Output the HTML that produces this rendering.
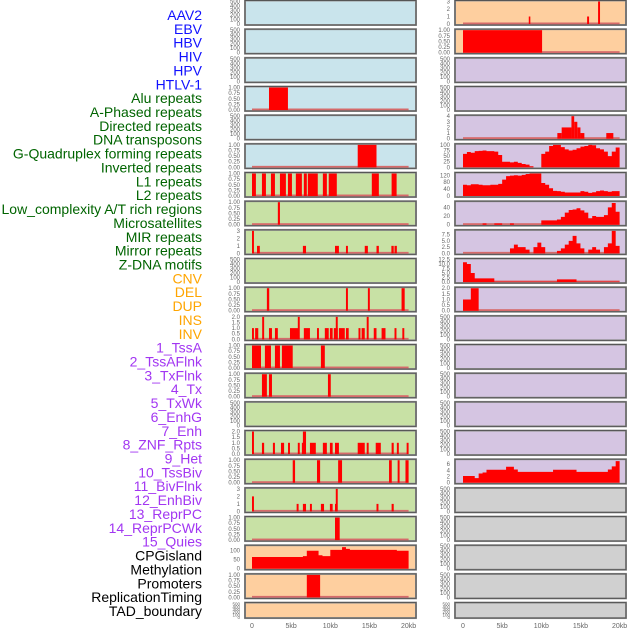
<!DOCTYPE html>
<html><head><meta charset="utf-8"><style>
html,body{margin:0;padding:0;background:#fff;}
svg{display:block;font-family:"Liberation Sans",sans-serif;}
</style></head><body>
<svg id="chart" width="630" height="630" viewBox="0 0 630 630" xmlns="http://www.w3.org/2000/svg"></svg>
<script>
// ---- data ----
const labelNames = ["AAV2","EBV","HBV","HIV","HPV","HTLV-1","Alu repeats","A-Phased repeats","Directed repeats","DNA transposons","G-Quadruplex forming repeats","Inverted repeats","L1 repeats","L2 repeats","Low_complexity A/T rich regions","Microsatellites","MIR repeats","Mirror repeats","Z-DNA motifs","CNV","DEL","DUP","INS","INV","1_TssA","2_TssAFlnk","3_TxFlnk","4_Tx","5_TxWk","6_EnhG","7_Enh","8_ZNF_Rpts","9_Het","10_TssBiv","11_BivFlnk","12_EnhBiv","13_ReprPC","14_ReprPCWk","15_Quies","CPGisland","Methylation","Promoters","ReplicationTiming","TAD_boundary"];
const labelGroups = ["v","v","v","v","v","v","r","r","r","r","r","r","r","r","r","r","r","r","r","s","s","s","s","s","c","c","c","c","c","c","c","c","c","c","c","c","c","c","c","o","o","o","o","o"];
const xTickValues = [0,5,10,15,20];
const xTickLabels = ["0","5kb","10kb","15kb","20kb"];

// bar tracks: [startKb, endKb, value]
const barsHIV = [[2.17,4.59,1]];
const barsHTLV = [[13.5,15.9,1]];
const barsAlu = [[0,0.5,1],[1.27,1.78,1],[2.42,2.93,1],[3.57,4.33,1],[4.59,5.1,1],[5.6,6.37,1],[6.62,7.0,1],[7.13,8.4,1],[9.05,9.56,1],[9.8,10.83,1],[15.3,16.2,1],[17.83,18.47,1]];
const barsAPhased = [[3.3,3.57,1]];
const barsDirected = [[0,0.25,3],[0.64,1.0,1],[6.5,6.9,1],[10.6,11.1,1],[12.0,12.25,1],[14.4,14.8,1],[15.9,16.2,1],[17.8,18.1,1],[18.2,18.5,1]];
const barsGQuad = [[1.9,2.2,1],[12.0,12.25,1],[14.8,15.05,1],[19.1,19.5,1]];
const barsInverted = [[0,0.25,1],[0.4,0.8,1],[1.3,1.55,2],[2.17,2.55,1],[2.93,3.3,1],[4.85,5.9,1],[5.85,6.1,2],[6.62,7.4,1],[8.3,8.55,1],[9.3,9.8,1],[9.95,10.3,1],[10.45,10.95,1],[10.7,10.95,2],[11.1,11.85,1],[12.0,12.35,1],[13.6,13.85,1],[14.0,14.4,1],[14.65,14.9,2],[15.55,15.9,1],[16.55,17.05,1],[18.2,18.45,1],[19.2,19.45,1]];
const barsL1 = [[0,1.15,1],[1.65,2.42,1],[2.93,3.57,1],[3.82,5.2,1],[8.8,9.3,1]];
const barsL2 = [[1.27,1.9,1],[2.17,2.55,1],[9.7,10.06,1]];
const barsMicro = [[0,0.25,2],[1.27,1.55,1],[2.67,2.93,1],[3.7,4.1,1],[4.6,4.85,1],[5.85,6.1,1],[6.37,6.75,1],[6.5,6.9,2],[7.4,8.15,1],[9.05,9.56,1],[9.95,10.3,1],[10.6,11.1,1],[13.5,14.4,1],[14.65,14.9,1],[15.8,16.45,1],[17.83,18.1,1],[18.5,18.75,1],[19.75,20.0,1]];
const barsMIR = [[5.2,5.5,1],[8.3,8.7,1],[11.0,11.5,1],[17.5,17.85,1],[18.6,18.85,1],[19.6,20.0,1]];
const barsMirror = [[0,0.25,2],[5.7,5.95,1],[6.5,6.9,1],[7.4,7.65,1],[8.8,9.2,1],[9.95,10.3,1],[10.6,10.85,1],[10.7,10.95,3],[15.9,16.15,1],[17.83,18.1,1]];
const barsZDNA = [[10.6,11.2,1]];
const barsDEL = [[7.0,8.7,1]];
const barsINS = [[8.4,8.6,1],[15.85,16.1,1],[17.25,17.5,3]];
const barsINV = [[0,10.1,1]];
const barsTssAFlnk = [[12.05,12.6,1],[12.6,13.85,2],[13.85,14.2,4],[14.2,14.6,3],[14.6,15.0,2],[15.0,15.5,1],[18.3,19.2,1]];

// area tracks: values per 0.5 kb bin from 0 to 20 kb
const areaCNV = [65,65,65,65,65,65,65,65,65,65,65,65,65,70,100,100,100,75,70,70,105,105,105,120,110,105,105,105,105,105,105,105,105,105,105,105,105,100,100,100];
const areaTxFlnk = [60,68,65,72,73,75,72,72,70,55,25,25,22,25,20,15,12,5,0,0,60,70,95,100,100,90,80,75,78,85,92,95,100,98,85,80,70,50,70,88];
const areaTx = [65,62,68,68,65,62,62,65,65,70,95,115,118,120,118,122,127,130,130,130,75,65,45,30,28,25,20,20,20,20,28,25,18,22,28,32,28,25,28,28];
const areaTxWk = [0,0,0,0,0,3,0,0,3,3,0,0,3,0,0,0,0,0,0,0,10,10,10,10,12,18,28,34,35,38,33,28,15,20,18,18,22,40,50,30];
const areaEnhG = [0,0,0,0,0,0,0,0,0,0,0,0,2,3.5,2.5,2.5,1.5,0,2.5,4.3,2.5,0,0,0,1,2,3.5,5,7,4,2,0,1.5,2.5,1.5,0,2.5,4,9,3];
const areaEnh = [11,10,5,2,2,2,2,2,0.2,0.2,0.2,0.2,0.2,0.2,0.2,0.2,0.2,0.2,0.2,0.2,0.2,0.2,0.2,0.2,1.5,1.5,1.5,1.5,1.5,0.2,0.2,0.2,0.2,0.2,0.2,0.2,0.2,0.2,0.2,0.2];
const areaZNF = [1,1,2,2,0,0,0,0,0,0,0,0,0,0,0,0,0,0,0,0,0,0,0,0,0,0,0,0,0,0,0,0,0,0,0,0,0,0,0,0];
const areaHet = [2.2,2.2,2.2,1.5,3,3.3,4.2,4.2,4.2,4.2,4.2,5.2,5.2,4.3,3.5,3.5,3.5,3.5,3.5,3.5,3.5,3.5,3.5,4.2,4.2,4.2,4.2,4.2,4.2,3.5,3.5,3.5,3.5,3.5,3.5,3.5,3.5,4.3,5.3,7];

// panel specs: [column, row, background, ymax, tickValues, decimals, bars, area, baseline]
const tickEmpty=[0,100,200,300,400,500], tickBin=[0,0.25,0.5,0.75,1], tick3=[0,1,2,3], tick2=[0,0.5,1,1.5,2];
const BLUE="#c9e4ec", GREEN="#c8e1a5", ORANGE="#fecf9f", PURPLE="#d5c5e2", GRAY="#d0d0d0";
const panels = [
 [0,0,BLUE,500,tickEmpty,0,null,null,false],
 [0,1,BLUE,500,tickEmpty,0,null,null,false],
 [0,2,BLUE,500,tickEmpty,0,null,null,false],
 [0,3,BLUE,1,tickBin,2,barsHIV,null,true],
 [0,4,BLUE,500,tickEmpty,0,null,null,false],
 [0,5,BLUE,1,tickBin,2,barsHTLV,null,true],
 [0,6,GREEN,1,tickBin,2,barsAlu,null,true],
 [0,7,GREEN,1,tickBin,2,barsAPhased,null,true],
 [0,8,GREEN,3,tick3,0,barsDirected,null,true],
 [0,9,GREEN,500,tickEmpty,0,null,null,false],
 [0,10,GREEN,1,tickBin,2,barsGQuad,null,true],
 [0,11,GREEN,2,tick2,1,barsInverted,null,true],
 [0,12,GREEN,1,tickBin,2,barsL1,null,true],
 [0,13,GREEN,1,tickBin,2,barsL2,null,true],
 [0,14,GREEN,500,tickEmpty,0,null,null,false],
 [0,15,GREEN,2,tick2,1,barsMicro,null,true],
 [0,16,GREEN,1,tickBin,2,barsMIR,null,true],
 [0,17,GREEN,3,tick3,0,barsMirror,null,true],
 [0,18,GREEN,1,tickBin,2,barsZDNA,null,true],
 [0,19,ORANGE,125,[0,50,100],0,null,areaCNV,false],
 [0,20,ORANGE,1,tickBin,2,barsDEL,null,true],
 [0,21,ORANGE,500,tickEmpty,0,null,null,false],
 [1,0,ORANGE,3,tick3,0,barsINS,null,true],
 [1,1,ORANGE,1,tickBin,2,barsINV,null,true],
 [1,2,PURPLE,500,tickEmpty,0,null,null,false],
 [1,3,PURPLE,500,tickEmpty,0,null,null,false],
 [1,4,PURPLE,4,[0,1,2,3,4],0,barsTssAFlnk,null,true],
 [1,5,PURPLE,100,[0,25,50,75,100],0,null,areaTxFlnk,false],
 [1,6,PURPLE,130,[0,40,80,120],0,null,areaTx,false],
 [1,7,PURPLE,52,[0,20,40],0,null,areaTxWk,true],
 [1,8,PURPLE,9,[0,2.5,5,7.5],1,null,areaEnhG,true],
 [1,9,PURPLE,12.5,[0,2.5,5,7.5,10,12.5],1,null,areaEnh,true],
 [1,10,PURPLE,2,tick2,1,null,areaZNF,true],
 [1,11,PURPLE,500,tickEmpty,0,null,null,false],
 [1,12,PURPLE,500,tickEmpty,0,null,null,false],
 [1,13,PURPLE,500,tickEmpty,0,null,null,false],
 [1,14,PURPLE,500,tickEmpty,0,null,null,false],
 [1,15,PURPLE,500,tickEmpty,0,null,null,false],
 [1,16,PURPLE,7.3,[0,2,4,6],0,null,areaHet,false],
 [1,17,GRAY,500,tickEmpty,0,null,null,false],
 [1,18,GRAY,500,tickEmpty,0,null,null,false],
 [1,19,GRAY,500,tickEmpty,0,null,null,false],
 [1,20,GRAY,500,tickEmpty,0,null,null,false],
 [1,21,GRAY,500,tickEmpty,0,null,null,false]
];

// ---- drawing ----
const NS="http://www.w3.org/2000/svg";
const svg=document.getElementById('chart');
function mk(tag,attrs,parent){const e=document.createElementNS(NS,tag);for(const k in attrs)e.setAttribute(k,attrs[k]);(parent||svg).appendChild(e);return e;}
const groupColor={v:"#1010ff",r:"#006400",s:"#ffa500",c:"#a236f2",o:"#000000"};
const colLeft=[245,455], colWidth=171, zeroX=[252,463], kbPx=7.83;
function xKb(col,kb){return zeroX[col]+kb*kbPx;}
function rowTop(r){return 0.5+r*28.67;}
function rowH(r){return r===21?15.5:24.5;}

labelNames.forEach((name,i)=>{
  const t=mk('text',{x:202,y:20+i*13.86,'text-anchor':'end','font-size':14,fill:groupColor[labelGroups[i]]});
  
  
  t.textContent=name;
});

panels.forEach((p,pi)=>{
  const [col,row,bg,ymax,ticks,dec,bars,area,baseline]=p;
  const top=rowTop(row), h=rowH(row), left=colLeft[col];
  const g=mk('g',{});
  
  
  const bgR=mk('rect',{x:left,y:top,width:colWidth,height:h,fill:bg,stroke:'#999','stroke-width':2},g);
  
  
  const y=v=>top+h-1-(v/ymax)*(h-2);
  ticks.forEach(tv=>{
    const tt=mk('text',{x:left-5,y:y(tv)+2,'text-anchor':'end','font-size':h<20?4.5:6,fill:'#666'},g);
    
    
    tt.textContent=tv.toFixed(dec);
  });
  if(baseline){
    const bl=mk('rect',{x:xKb(col,0),y:top+h-2.5,width:20*kbPx,height:1.8,fill:'#d66a6a'},g);
    
    
  }
  if(bars){
    bars.forEach(b=>{
      const r=mk('rect',{x:xKb(col,b[0]),y:y(b[2]),width:Math.max(1.5,(b[1]-b[0])*kbPx),height:y(0)-y(b[2]),fill:'#ff0000'},g);
      
      
    });
  }
  if(area){
    let d='M'+xKb(col,0)+','+y(0);
    area.forEach((v,i)=>{d+=' L'+xKb(col,i*0.5)+','+y(v)+' L'+xKb(col,(i+1)*0.5)+','+y(v);});
    d+=' L'+xKb(col,area.length*0.5)+','+y(0)+' Z';
    const pa=mk('path',{d:d,fill:'#ff0000'},g);
    
    
  }
  const br=mk('rect',{x:left,y:top,width:colWidth,height:h,fill:'none',stroke:'#555','stroke-width':1},g);
  
  
});

[0,1].forEach(col=>{
  xTickValues.forEach((v,i)=>{
    const t=mk('text',{x:xKb(col,v),y:628,'text-anchor':'middle','font-size':7,fill:'#666'});
    
    
    t.textContent=xTickLabels[i];
  });
});
</script>
</body></html>
